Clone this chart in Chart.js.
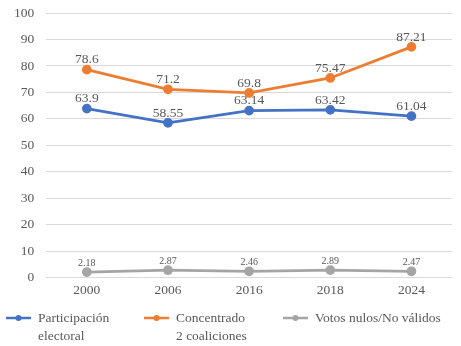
<!DOCTYPE html>
<html>
<head>
<meta charset="utf-8">
<script src="https://cdn.jsdelivr.net/npm/chart.js@4/dist/chart.umd.min.js"></script>
<style>
  html, body { margin: 0; padding: 0; background: #fff; }
  #wrap { width: 461px; height: 346px; }
</style>
</head>
<body>
<div id="wrap"><canvas id="chart" width="461" height="346"></canvas></div>
<script>
// Chart data
const years = ['2000', '2006', '2016', '2018', '2024'];
const participacion = [63.9, 58.55, 63.14, 63.42, 61.04];
const concentrado = [78.6, 71.2, 69.8, 75.47, 87.21];
const votosNulos = [2.18, 2.87, 2.46, 2.89, 2.47];
const seriesNames = [['Participación', 'electoral'], ['Concentrado', '2 coaliciones'], ['Votos nulos/No válidos']];
const seriesColors = ['#4472C4', '#ED7D31', '#A5A5A5'];

const FONT = "'Liberation Serif', 'DejaVu Serif', serif";
const TEXT = '#595959';

// value labels above each point
const valueLabels = {
  id: 'valueLabels',
  afterDatasetsDraw(chart) {
    const ctx = chart.ctx;
    ctx.save();
    ctx.fillStyle = TEXT;
    ctx.textAlign = 'center';
    ctx.textBaseline = 'bottom';
    chart.data.datasets.forEach((ds, i) => {
      const meta = chart.getDatasetMeta(i);
      const small = i === 2;
      ctx.font = (small ? '10px ' : '13.5px ') + FONT;
      meta.data.forEach((pt, j) => {
        ctx.fillText(String(ds.data[j]), pt.x, pt.y - (small ? 4 : 3));
      });
    });
    ctx.restore();
  }
};

// legend with wrapped labels, drawn under the axis
const wrappedLegend = {
  id: 'wrappedLegend',
  afterDraw(chart) {
    const ctx = chart.ctx;
    const xs = [6, 144, 283];
    const y = 318;
    ctx.save();
    ctx.font = '13.5px ' + FONT;
    ctx.textBaseline = 'middle';
    ctx.textAlign = 'left';
    seriesNames.forEach((lines, i) => {
      const x = xs[i];
      ctx.strokeStyle = seriesColors[i];
      ctx.lineWidth = 2.5;
      ctx.beginPath();
      ctx.moveTo(x, y);
      ctx.lineTo(x + 25, y);
      ctx.stroke();
      ctx.fillStyle = seriesColors[i];
      ctx.beginPath();
      ctx.arc(x + 12.5, y, 3, 0, Math.PI * 2);
      ctx.fill();
      ctx.fillStyle = TEXT;
      lines.forEach((t, k) => ctx.fillText(t, x + 32, y + k * 18));
    });
    ctx.restore();
  }
};

function lineSet(label, data, color) {
  return {
    label: label,
    data: data,
    borderColor: color,
    backgroundColor: color,
    borderWidth: 2.75,
    pointRadius: 3.5,
    pointHoverRadius: 3.5,
    tension: 0
  };
}

new Chart(document.getElementById('chart'), {
  type: 'line',
  data: {
    labels: years,
    datasets: [
      lineSet('Participación electoral', participacion, seriesColors[0]),
      lineSet('Concentrado 2 coaliciones', concentrado, seriesColors[1]),
      lineSet('Votos nulos/No válidos', votosNulos, seriesColors[2])
    ]
  },
  options: {
    responsive: false,
    animation: false,
    layout: { padding: { top: 0, left: 2, right: 9, bottom: 50 } },
    plugins: {
      legend: { display: false },
      tooltip: { enabled: false }
    },
    scales: {
      x: {
        offset: true,
        grid: { display: false },
        border: { display: false },
        ticks: { color: TEXT, font: { family: FONT, size: 13.5 }, padding: -3 }
      },
      y: {
        min: 0,
        max: 100,
        grid: { color: '#D9D9D9', lineWidth: 1, drawTicks: false },
        border: { display: false },
        ticks: { stepSize: 10, color: TEXT, font: { family: FONT, size: 13.5 }, padding: 12 },
        // tick padding also pushes the top down; keep the 100 line near the top edge
        afterFit(scale) { scale.paddingTop = 13; }
      }
    }
  },
  plugins: [valueLabels, wrappedLegend]
});
</script>
</body>
</html>
